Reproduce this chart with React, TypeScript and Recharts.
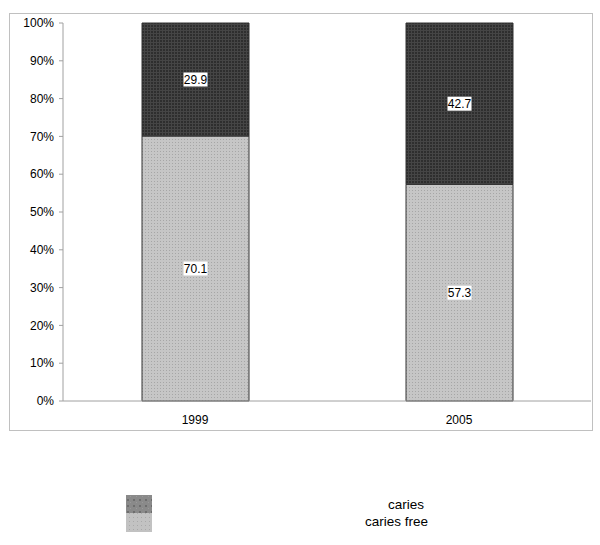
import React from 'react';
import { BarChart, Bar, XAxis, YAxis, LabelList } from 'recharts';

const years = ['1999', '2005'];
const cariesFree = [70.1, 57.3];
const caries = [29.9, 42.7];
const yTicks = [0, 10, 20, 30, 40, 50, 60, 70, 80, 90, 100];

const data = years.map((year, i) => ({
  year,
  cariesFree: cariesFree[i],
  caries: caries[i],
}));

const FONT = '"Liberation Sans", Arial, sans-serif';

const BoxLabel = (props: any) => {
  const { x, y, width, height, value } = props;
  const cx = x + width / 2;
  const cy = y + height / 2;
  const text = Number(value).toFixed(1);
  return (
    <g>
      <rect x={cx - 12} y={cy - 7} width={24} height={14} fill="#ffffff" />
      <text x={cx} y={cy} dy="0.35em" textAnchor="middle" fontSize={12} fontFamily={FONT} fill="#000">
        {text}
      </text>
    </g>
  );
};

const Patterns = () => (
  <defs>
    <pattern id="darkPat" width="3" height="3" patternUnits="userSpaceOnUse">
      <rect width="3" height="3" fill="#2e2e2e" />
      <rect x="0" y="0" width="3" height="1" fill="#454545" />
      <rect x="0" y="0" width="1" height="3" fill="#454545" />
    </pattern>
    <pattern id="lightPat" width="3" height="3" patternUnits="userSpaceOnUse">
      <rect width="3" height="3" fill="#c6c6c6" />
      <rect x="1" y="1" width="1" height="1" fill="#a6a6a6" />
    </pattern>
    <pattern id="darkLeg" width="6" height="6" patternUnits="userSpaceOnUse">
      <rect width="6" height="6" fill="#8a8a8a" />
      <rect x="1" y="1" width="2" height="2" fill="#6e6e6e" />
      <rect x="4" y="4" width="1" height="1" fill="#9a9a9a" />
    </pattern>
    <pattern id="lightLeg" width="4" height="4" patternUnits="userSpaceOnUse">
      <rect width="4" height="4" fill="#c2c2c2" />
      <rect x="1" y="1" width="1" height="1" fill="#a9a9a9" />
    </pattern>
  </defs>
);

export default function App() {
  return (
    <div style={{ position: 'absolute', left: 0, top: 0, width: 600, height: 545, background: '#fff', fontFamily: FONT }}>
      <div
        style={{
          position: 'absolute',
          left: 9,
          top: 13,
          width: 582,
          height: 416,
          border: '1px solid #c0c0c0',
        }}
      />
      <div style={{ position: 'absolute', left: 0, top: 0 }}>
        <BarChart
          width={600}
          height={440}
          data={data}
          margin={{ top: 23, right: 9, left: 0, bottom: 9 }}
          barSize={107}
        >
          <Patterns />
          <XAxis
            dataKey="year"
            height={30}
            tickLine={false}
            tickSize={8}
            tickMargin={6}
            stroke="#a0a0a0"
            tick={{ fill: '#000', fontSize: 12, fontFamily: FONT }}
          />
          <YAxis
            width={63}
            domain={[0, 100]}
            ticks={yTicks}
            tickFormatter={(v) => `${v}%`}
            tickSize={4}
            tickMargin={5}
            stroke="#a0a0a0"
            interval={0}
            tick={{ fill: '#000', fontSize: 12, fontFamily: FONT }}
          />
          <Bar dataKey="cariesFree" stackId="a" fill="url(#lightPat)" stroke="#333" strokeWidth={1} isAnimationActive={false}>
            <LabelList dataKey="cariesFree" content={BoxLabel} />
          </Bar>
          <Bar dataKey="caries" stackId="a" fill="url(#darkPat)" stroke="#333" strokeWidth={1} isAnimationActive={false}>
            <LabelList dataKey="caries" content={BoxLabel} />
          </Bar>
        </BarChart>
      </div>
      <svg style={{ position: 'absolute', left: 0, top: 0 }} width={600} height={545}>
        <Patterns />
        <rect x={126} y={495} width={26} height={18} fill="url(#darkLeg)" />
        <rect x={126} y={513} width={26} height={19} fill="url(#lightLeg)" />
      </svg>
      <div style={{ position: 'absolute', left: 300, width: 124, top: 497, fontSize: 13.5, lineHeight: '16px', textAlign: 'right', color: '#000' }}>
        caries
      </div>
      <div style={{ position: 'absolute', left: 300, width: 128, top: 514, fontSize: 13.5, lineHeight: '16px', textAlign: 'right', color: '#000' }}>
        caries free
      </div>
    </div>
  );
}
